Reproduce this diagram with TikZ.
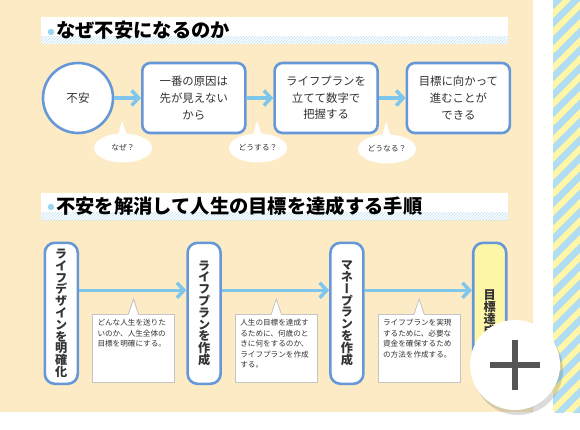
\documentclass[tikz,border=0pt]{standalone}
\usepackage{fontspec}
\setmainfont{Noto Sans CJK JP}
\newfontfamily\tatefont[RawFeature=+vert]{Noto Sans CJK JP}
\definecolor{bgcream}{HTML}{FCEBC5}
\definecolor{boxblue}{HTML}{6698D8}
\definecolor{arrowblue}{HTML}{7EC6EC}
\definecolor{dotblue}{HTML}{9ED3F0}
\definecolor{goalyellow}{HTML}{FFF7A8}
\definecolor{stripeblue}{HTML}{B0DDF4}
\definecolor{stripeyellow}{HTML}{FFF6A6}
\definecolor{notegray}{HTML}{C4C4C4}
\definecolor{plusgray}{HTML}{555555}
\definecolor{inkgray}{HTML}{333333}
\usetikzlibrary{shapes.geometric,arrows.meta,positioning,patterns}

\begin{document}
\begin{tikzpicture}[x=1pt, y=-1pt,
  flowbox/.style={draw=boxblue, line width=2.6pt, fill=white, rounded corners=8pt,
    minimum width=103pt, minimum height=70pt, inner sep=0pt, align=center,
    text=inkgray, font=\fontsize{11.4}{16.7}\selectfont},
  startcircle/.style={circle, draw=boxblue, line width=2.6pt, fill=white,
    minimum size=70pt, inner sep=0pt, text=inkgray, font=\fontsize{11.6}{14}\selectfont},
  stepbox/.style={draw=boxblue, line width=2.6pt, fill=white, rounded corners=10pt,
    minimum width=33pt, minimum height=141pt, inner sep=0pt, align=center,
    text=inkgray, font=\tatefont\bfseries\fontsize{12.2}{11.8}\selectfont},
  bubble/.style={ellipse, fill=white, minimum width=58pt, minimum height=29pt,
    inner sep=0pt, text=inkgray, font=\fontsize{7.8}{9}\selectfont},
  note/.style={draw=notegray, line width=0.8pt, fill=white, minimum width=80pt,
    minimum height=68pt, inner sep=5pt, text=inkgray, font=\fontsize{7.6}{10.5}\selectfont},
  titletext/.style={font=\bfseries\fontsize{19.3}{22}\selectfont, text=black, inner sep=0pt},
  arr/.style={-{Straight Barb[length=7pt,width=15pt]}, line width=3.5pt, arrowblue},
]
  % Page background
  \fill[white] (0,0) rectangle (580,430);
  \fill[bgcream] (0,0) rectangle (533,412);
  \begin{scope}
    \clip (553,0) rectangle (580,412);
    \fill[stripeyellow] (553,0) rectangle (580,412);
    \foreach \s in {0,18,...,486}
      \draw[stripeblue, line width=6.4pt] (540,\s) -- ++(60,-60);
  \end{scope}

  % Title bars
  \fill[white] (41,17) rectangle (508,44);
  \fill[pattern=north east lines, pattern color=dotblue!70] (41,37) rectangle (508,44);
  \fill[dotblue] (51,32) circle (3.2pt);
  \node[titletext, anchor=west] (title1) at (56,30) {なぜ不安になるのか};

  \fill[white] (41,193) rectangle (508,220);
  \fill[pattern=north east lines, pattern color=dotblue!70] (41,213) rectangle (508,220);
  \fill[dotblue] (51,207) circle (3.2pt);
  \node[titletext, anchor=west] (title2) at (56,206) {不安を解消して人生の目標を達成する手順};

  % Top row
  \node[startcircle] (worry) at (78,98) {不安};
  \node[flowbox, anchor=west] (cause) at (141,98) {一番の原因は\\先が見えない\\から};
  \node[flowbox, right=26.7pt of cause] (grasp) {ライフプランを\\立てて数字で\\把握する};
  \node[flowbox, right=26.7pt of grasp] (ahead) {目標に向かって\\進むことが\\できる};

  \draw[arr] (worry) -- (cause);
  \draw[arr] (cause) -- (grasp);
  \draw[arr] (grasp) -- (ahead);

  % Question bubbles
  \node[bubble] (why) at (123,148) {なぜ？};
  \node[bubble] (how) at (258,148) {どうする？};
  \node[bubble] (then) at (387,149) {どうなる？};
  \foreach \b in {why,how,then}
    \fill[white] ([xshift=-5pt,yshift=-2pt]\b.north) -- ([xshift=-1pt,yshift=13pt]\b.north)
      -- ([xshift=4pt,yshift=-2pt]\b.north) -- cycle;

  % Bottom row
  \node[stepbox, anchor=north west] (design) at (43.5,241.5)
    {ラ\\イ\\フ\\デ\\ザ\\イ\\ン\\を\\明\\確\\化};
  \node[stepbox, right=107.2pt of design] (lifeplan)
    {ラ\\イ\\フ\\プ\\ラ\\ン\\を\\作\\成};
  \node[stepbox, right=107.2pt of lifeplan] (moneyplan)
    {マ\\ネ\\ー\\プ\\ラ\\ン\\を\\作\\成};
  \node[stepbox, fill=goalyellow, right=107.2pt of moneyplan] (target)
    {目\\標\\達\\成};

  \draw[arr] ([yshift=23pt]design.east) -- ([yshift=23pt]lifeplan.west);
  \draw[arr] ([yshift=23pt]lifeplan.east) -- ([yshift=23pt]moneyplan.west);
  \draw[arr] ([yshift=23pt]moneyplan.east) -- ([yshift=23pt]target.west);

  % Notes
  \node[note, anchor=north west] (note1) at ([xshift=13pt,yshift=-72.5pt]design.north east)
    {\parbox[t][58pt][t]{72pt}{どんな人生を送りた\\いのか、人生全体の\\目標を明確にする。}};
  \node[note, anchor=north west] (note2) at ([xshift=13pt,yshift=-72.5pt]lifeplan.north east)
    {\parbox[t][58pt][t]{72pt}{人生の目標を達成す\\るために、何歳のと\\きに何をするのか、\\ライフプランを作成\\する。}};
  \node[note, anchor=north west] (note3) at ([xshift=13pt,yshift=-72.5pt]moneyplan.north east)
    {\parbox[t][58pt][t]{72pt}{ライフプランを実現\\するために、必要な\\資金を確保するため\\の方法を作成する。}};
  \foreach \n in {note1,note2,note3} {
    \fill[white] ([xshift=-5pt,yshift=-1pt]\n.north) -- ([yshift=15pt]\n.north)
      -- ([xshift=5pt,yshift=-1pt]\n.north) -- cycle;
    \draw[notegray, line width=0.8pt] ([xshift=-5pt]\n.north) -- ([yshift=15pt]\n.north)
      -- ([xshift=5pt]\n.north);
  }

  % Zoom button
  \fill[black, opacity=0.14] (518,370) circle (45pt);
  \fill[white] (515,365) circle (45pt);
  \draw[plusgray, line width=6.5pt] (490,365) -- (540,365) (515,340) -- (515,390);
\end{tikzpicture}
\end{document}
